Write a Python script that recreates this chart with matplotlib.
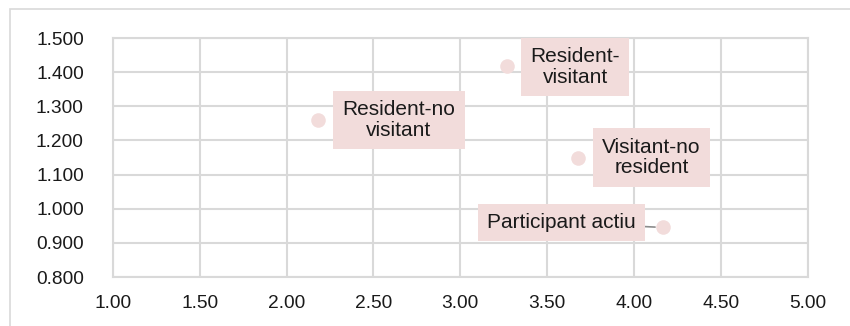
import matplotlib.pyplot as plt
from matplotlib.patches import Rectangle

# Data
labels = ['Resident-no\nvisitant', 'Resident-\nvisitant', 'Visitant-no\nresident', 'Participant actiu']
x_vals = [2.18, 3.27, 3.68, 4.17]
y_vals = [1.260, 1.418, 1.150, 0.945]
# label offsets from each point, in pixels
offsets = [(81, 0), (68, -1), (73, 0), (-102, 5)]

x_ticks = [1.0, 1.5, 2.0, 2.5, 3.0, 3.5, 4.0, 4.5, 5.0]
y_ticks = [0.8, 0.9, 1.0, 1.1, 1.2, 1.3, 1.4, 1.5]

pink = '#F2DCDB'
grid_col = '#D9D9D9'
txt_col = '#1a1a1a'

plt.rcParams['font.family'] = ['Liberation Sans', 'DejaVu Sans']

W, H = 850, 326
fig = plt.figure(figsize=(W / 100, H / 100), dpi=100)
ax = fig.add_axes([113 / W, 1 - 277 / H, (807.5 - 113) / W, (277 - 38) / H])

# outer chart border
fig.patches.append(Rectangle((10 / W, 0 - 0.01), 1.0, 1 - 9 / H + 0.01,
                             transform=fig.transFigure, fill=False,
                             edgecolor=grid_col, linewidth=1.2))

ax.scatter(x_vals, y_vals, s=110, color=pink, zorder=3, linewidths=0)

for lab, x, y, off in zip(labels, x_vals, y_vals, offsets):
    arrow = None
    if off[0] < 0:
        arrow = dict(arrowstyle='-', color='#8c8c8c', lw=1.2,
                     shrinkA=0, shrinkB=6)
    ax.annotate(lab, (x, y), xytext=off, textcoords='offset pixels',
                ha='center', va='center', fontsize=15, color=txt_col,
                linespacing=1.1, zorder=4,
                bbox=dict(boxstyle='square,pad=0.45', fc=pink, ec='none'),
                arrowprops=arrow)

ax.set_xlim(1.0, 5.0)
ax.set_ylim(0.8, 1.5)
ax.set_xticks(x_ticks)
ax.set_yticks(y_ticks)
ax.set_xticklabels([f'{v:.2f}' for v in x_ticks])
ax.set_yticklabels([f'{v:.3f}' for v in y_ticks])
ax.tick_params(length=0, labelsize=13.8, colors=txt_col)
ax.tick_params(axis='y', pad=21)
ax.tick_params(axis='x', pad=13)
ax.grid(True, color=grid_col, linewidth=1.5)
ax.set_axisbelow(True)
for sp in ax.spines.values():
    sp.set_color(grid_col)
    sp.set_linewidth(1.5)

fig.savefig('out.png', dpi=100)
